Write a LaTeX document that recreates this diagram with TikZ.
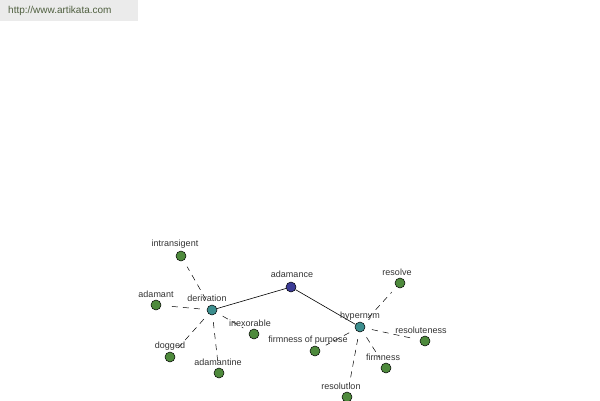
\documentclass[tikz,border=0pt]{standalone}
\usepackage{fontspec}
\setmainfont{Liberation Sans}
\begin{document}
\begin{tikzpicture}[x=1pt,y=-1pt,
  dot/.style={circle,draw=black,line width=0.5pt,minimum size=10pt,inner sep=0pt},
  leaf/.style={dot,fill=leafgreen},
  rel/.style={dot,fill=relteal},
  root/.style={dot,fill=rootblue},
  lab/.style={font=\fontsize{9}{10}\selectfont,text=black!80,inner sep=0pt},
  dashline/.style={dashed,dash pattern=on 6pt off 5pt,line width=0.5pt,shorten <=7pt,shorten >=7pt},
  solidline/.style={line width=0.6pt}]
\definecolor{leafgreen}{HTML}{4E8A3C}
\definecolor{relteal}{HTML}{3C8E8E}
\definecolor{rootblue}{HTML}{3C3C96}
\definecolor{wmtext}{HTML}{4F5F3F}
\useasboundingbox (0,0) rectangle (600,400);
\fill[white] (0,0) rectangle (600,400);
\fill[black!8] (0,0) rectangle (138,21);
\node[anchor=west,font=\fontsize{10}{11}\selectfont,text=wmtext,inner sep=0pt] (wm) at (8,11) {http://www.artikata.com};

\node[root] (adamance) at (291,287) {};
\node[rel] (derivation) at (212,310) {};
\node[rel] (hypernym) at (360,327) {};
\node[leaf] (intransigent) at (181,256) {};
\node[leaf] (adamant) at (156,305) {};
\node[leaf] (dogged) at (170,357) {};
\node[leaf] (adamantine) at (219,373) {};
\node[leaf] (inexorable) at (254,334) {};
\node[leaf] (fop) at (315,351) {};
\node[leaf] (resolve) at (400,283) {};
\node[leaf] (resoluteness) at (425,341) {};
\node[leaf] (firmness) at (386,368) {};
\node[leaf] (resolution) at (347,397) {};

\draw[solidline] (adamance) -- (derivation);
\draw[solidline] (adamance) -- (hypernym);
\foreach \t in {intransigent,adamant,dogged,adamantine,inexorable}
  \draw[dashline] (derivation) -- (\t);
\foreach \t in {fop,resolve,resoluteness,firmness,resolution}
  \draw[dashline] (hypernym) -- (\t);

\node[lab] (l1) at (292,274) {adamance};
\node[lab] (l2) at (207,298) {derivation};
\node[lab] (l3) at (360,316) {hypernym};
\node[lab] (l4) at (175,244) {intransigent};
\node[lab] (l5) at (156,294) {adamant};
\node[lab] (l6) at (170,346) {dogged};
\node[lab] (l7) at (218,362) {adamantine};
\node[lab] (l8) at (250,323) {inexorable};
\node[lab] (l9) at (308,340) {firmness of purpose};
\node[lab] (l10) at (397,272) {resolve};
\node[lab] (l11) at (421,330) {resoluteness};
\node[lab] (l12) at (383,357) {firmness};
\node[lab] (l13) at (341,386) {resolution};
\end{tikzpicture}
\end{document}
